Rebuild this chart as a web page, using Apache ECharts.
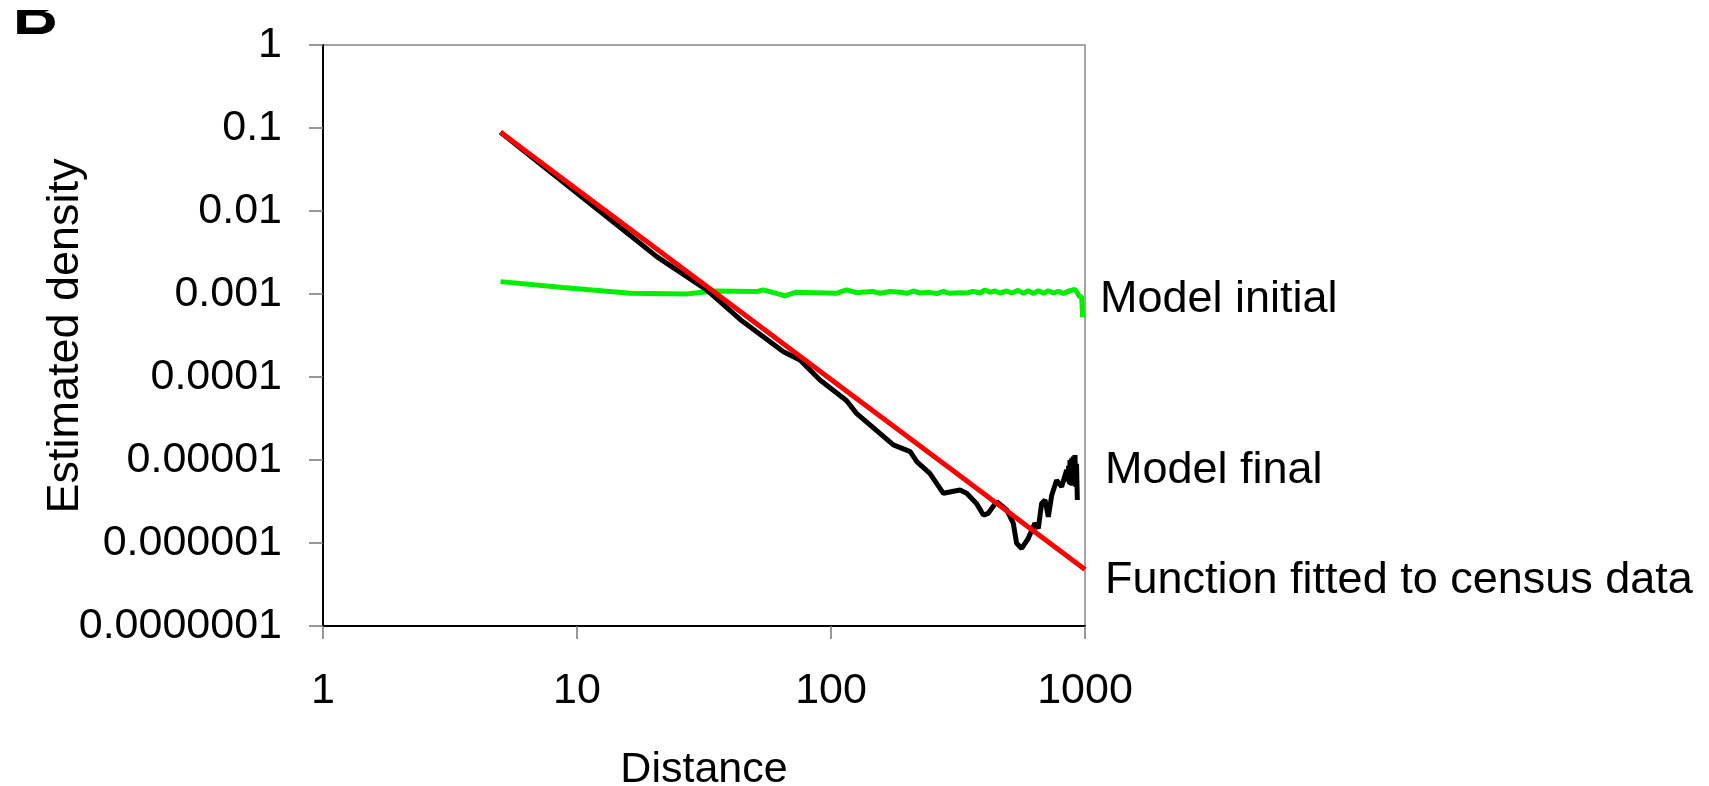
<!DOCTYPE html>
<html>
<head>
<meta charset="utf-8">
<script src="https://cdn.jsdelivr.net/npm/echarts@6.0.0/dist/echarts.min.js"></script>
<style>
  html, body { margin: 0; padding: 0; background: #fff; }
  #chart { width: 1709px; height: 786px; }
</style>
</head>
<body>
<div id="chart"></div>
<script>
// values (log-log plot)
const initialX = [5, 8.8, 16.2, 27, 34.4, 51, 54, 63, 65.9, 73, 105, 115, 126, 147, 156, 171,
  187, 199, 211, 224, 245, 261, 277, 294, 322, 342, 363, 386, 404, 423, 442, 463, 492, 514,
  546, 572, 598, 626, 655, 686, 717, 751, 785, 822, 873, 913, 927, 950, 970, 979];
const initialY = [0.00141, 0.0012, 0.00102, 0.001, 0.00109, 0.00107, 0.00112, 0.00099, 0.00095, 0.00105,
  0.00102, 0.00112, 0.00104, 0.00107, 0.00102, 0.00107,
  0.001047, 0.001019, 0.001087, 0.001028, 0.001047, 0.00101, 0.001077, 0.001019, 0.001038, 0.001028,
  0.001077, 0.001028, 0.001117, 0.001047, 0.001087, 0.001028, 0.001087, 0.001028, 0.001107, 0.001019,
  0.001097, 0.00101, 0.001097, 0.001019, 0.001097, 0.001028, 0.001077, 0.001019, 0.001097, 0.001138,
  0.001067, 0.000929, 0.000929, 0.000524];

const finalX = [5, 7.8, 13.1, 20.6, 32.4, 44, 65, 75.5, 90.5, 115, 126, 176, 205, 218, 245, 277,
  322, 342, 374, 398, 416, 449, 492, 522, 538, 563, 598, 635, 655, 675, 696, 717, 740, 773, 809,
  847, 855, 862, 868, 873, 879, 886, 892, 899, 906, 913, 920, 926, 933];
const finalY = [0.089, 0.030, 0.00853, 0.00282, 0.00112, 0.00049, 0.000202, 0.00016, 9.2e-5, 5.2e-5,
  3.65e-5, 1.52e-5, 1.26e-5, 9.5e-6, 6.9e-6, 3.97e-6, 4.35e-6, 3.97e-6, 3.0e-6, 2.17e-6, 2.28e-6,
  3.15e-6, 2.5e-6, 1.73e-6, 9.9e-7, 8.6e-7, 1.14e-6, 1.73e-6, 1.5e-6, 3.0e-6, 3.3e-6, 2.07e-6,
  3.79e-6, 5.7e-6, 4.77e-6, 7.6e-6, 5.5e-6, 8.5e-6, 5.2e-6, 1.0e-5, 5.0e-6, 1.05e-5, 4.9e-6,
  1.1e-5, 5.2e-6, 1.15e-5, 4.77e-6, 9e-6, 3.3e-6];

const fittedX = [5, 10, 30, 100, 300, 1000];
const fittedY = [0.0887, 0.0182, 0.00147, 9.35e-5, 7.6e-6, 4.8e-7];

const seriesNames = ['Model initial', 'Model final', 'Function fitted to census data'];
const xTicks = [1, 10, 100, 1000];
const yTicks = [1e-7, 1e-6, 1e-5, 1e-4, 1e-3, 1e-2, 0.1, 1];

const FONT = "'Liberation Sans', Arial, sans-serif";

function pairs(xs, ys) {
  return xs.map((x, i) => [x, ys[i]]);
}

function decimalLabel(v) {
  const d = Math.round(-Math.log10(v));
  return d > 0 ? v.toFixed(d) : String(Math.round(v));
}

const chart = echarts.init(document.getElementById('chart'));
chart.setOption({
  backgroundColor: '#fff',
  animation: false,
  grid: {
    left: 323, top: 45, width: 762, height: 581,
    outerBoundsMode: 'none',
    containLabel: false,
    show: true, borderColor: '#888', borderWidth: 1.5, backgroundColor: 'transparent'
  },
  xAxis: {
    type: 'log',
    logBase: 10,
    min: xTicks[0],
    max: xTicks[xTicks.length - 1],
    name: 'Distance',
    nameLocation: 'middle',
    nameGap: 123,
    nameTextStyle: { fontFamily: FONT, fontSize: 43, color: '#000' },
    axisLine: { lineStyle: { color: '#000', width: 2 } },
    axisTick: { length: 13, lineStyle: { color: '#777', width: 1.5 } },
    minorTick: { show: false },
    splitLine: { show: false },
    axisLabel: {
      margin: 44, fontFamily: FONT, fontSize: 43, color: '#000',
      formatter: decimalLabel
    }
  },
  yAxis: {
    type: 'log',
    logBase: 10,
    min: yTicks[0],
    max: yTicks[yTicks.length - 1],
    axisLine: { lineStyle: { color: '#000', width: 2 } },
    axisTick: { length: 14, lineStyle: { color: '#777', width: 1.5 } },
    minorTick: { show: false },
    splitLine: { show: false },
    axisLabel: {
      margin: 41, fontFamily: FONT, fontSize: 43, color: '#000',
      formatter: decimalLabel
    }
  },
  series: [
    {
      name: seriesNames[0], type: 'line', showSymbol: false, symbol: 'none',
      lineStyle: { color: '#00ee00', width: 5 }, data: pairs(initialX, initialY)
    },
    {
      name: seriesNames[1], type: 'line', showSymbol: false, symbol: 'none',
      lineStyle: { color: '#000', width: 5 }, data: pairs(finalX, finalY)
    },
    {
      name: seriesNames[2], type: 'line', showSymbol: false, symbol: 'none',
      lineStyle: { color: '#ff0000', width: 5 }, data: pairs(fittedX, fittedY)
    }
  ],
  graphic: [
    // y axis title, placed by hand so it sits where the source has it
    {
      type: 'text', x: 66, y: 336, rotation: Math.PI / 2, z: 10,
      style: {
        text: 'Estimated density', font: '45px ' + FONT, fill: '#000',
        align: 'center', verticalAlign: 'middle'
      }
    },
    {
      type: 'text', left: 1100, top: 277, z: 10,
      style: { text: seriesNames[0], font: '45px ' + FONT, fill: '#000' }
    },
    {
      type: 'text', left: 1105, top: 448, z: 10,
      style: { text: seriesNames[1], font: '45px ' + FONT, fill: '#000' }
    },
    {
      type: 'text', left: 1105, top: 558, z: 10,
      style: { text: seriesNames[2], font: '45px ' + FONT, fill: '#000' }
    },
    // panel letter, top of it cut off as in the source figure
    {
      type: 'text', left: 13, top: -14, z: 10,
      style: { text: 'B', font: 'bold 62px ' + FONT, fill: '#000' }
    },
    {
      type: 'rect', left: 0, top: 0, z: 11,
      shape: { width: 80, height: 10 }, style: { fill: '#fff' }
    }
  ]
});
</script>
</body>
</html>
